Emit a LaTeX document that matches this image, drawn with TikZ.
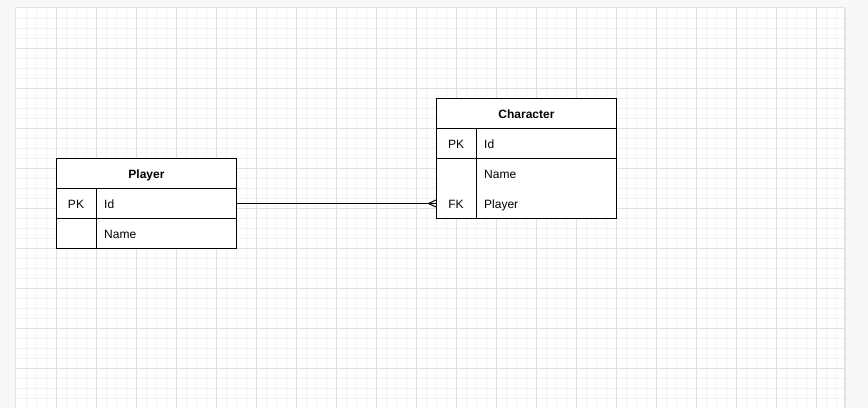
\documentclass[tikz,border=0pt]{standalone}
\usepackage{fontspec}
\setmainfont{Liberation Sans}
\definecolor{outerbg}{HTML}{F7F8FA}
\definecolor{minorgrid}{HTML}{F3F3F3}
\definecolor{majorgrid}{HTML}{E0E0E0}
\definecolor{pageedge}{HTML}{E3E3E3}
\tikzset{
  cell/.style={draw=black, line width=1pt, fill=white, inner sep=0pt, anchor=north west, minimum width=180pt},
  txt/.style={inner sep=0pt, font=\fontsize{12}{14}\selectfont},
  ttl/.style={inner sep=0pt, font=\fontsize{12}{14}\selectfont\bfseries, anchor=base},
  link/.style={draw=black, line width=1pt}
}
\begin{document}
\begin{tikzpicture}[x=1pt,y=-1pt]
\useasboundingbox (0,0) rectangle (868,408);
\fill[outerbg] (0,0) rectangle (868,408);
\fill[pageedge] (14.5,6.5) rectangle (845.5,408);
\fill[white] (16,8) rectangle (844,408);
% grid
\foreach \x in {26,36,...,836} \draw[minorgrid, line width=1pt] (\x,8) -- (\x,408);
\foreach \y in {18,28,...,398} \draw[minorgrid, line width=1pt] (16,\y) -- (844,\y);
\foreach \x in {56,96,...,816} \draw[majorgrid, line width=1pt] (\x,8) -- (\x,408);
\foreach \y in {48,88,...,368} \draw[majorgrid, line width=1pt] (16,\y) -- (844,\y);

% Player table
\node[cell, minimum height=30pt] (ph) at (56,158) {};
\node[cell, minimum height=30pt] (pr1) at (56,188) {};
\node[cell, minimum height=30pt] (pr2) at (56,218) {};
\draw[line width=1pt] ([xshift=40pt]pr1.north west) -- ([xshift=40pt]pr2.south west);
\node[ttl] (pht) at ([yshift=-5pt]ph.center) {Player};
\node[txt, anchor=base] (ppk) at ([xshift=20pt,yshift=-5pt]pr1.west) {PK};
\node[txt, anchor=base west] (pid) at ([xshift=48pt,yshift=-5pt]pr1.west) {Id};
\node[txt, anchor=base west] (pname) at ([xshift=48pt,yshift=-5pt]pr2.west) {Name};

% Character table
\node[cell, minimum height=30pt] (ch) at (436,98) {};
\node[cell, minimum height=30pt] (cr1) at (436,128) {};
\node[cell, minimum height=60pt] (cr2) at (436,158) {};
\draw[line width=1pt] ([xshift=40pt]cr1.north west) -- ([xshift=40pt]cr2.south west);
\node[ttl] (cht) at ([yshift=-5pt]ch.center) {Character};
\node[txt, anchor=base] (cpk) at ([xshift=20pt,yshift=-5pt]cr1.west) {PK};
\node[txt, anchor=base west] (cid) at ([xshift=48pt,yshift=-5pt]cr1.west) {Id};
\node[txt, anchor=base west] (cname) at ([xshift=48pt,yshift=10pt]cr2.west) {Name};
\node[txt, anchor=base] (cfk) at ([xshift=20pt,yshift=-20pt]cr2.west) {FK};
\node[txt, anchor=base west] (cplayer) at ([xshift=48pt,yshift=-20pt]cr2.west) {Player};
\coordinate (cend) at ([yshift=-15pt]cr2.west);

% relation with crow's foot
\draw[link] (pr1.east) -- (cend);
\draw[link] ([xshift=-7.5pt]cend) -- ([yshift=3.5pt]cend);
\draw[link] ([xshift=-7.5pt]cend) -- ([yshift=-3.5pt]cend);
\end{tikzpicture}
\end{document}
